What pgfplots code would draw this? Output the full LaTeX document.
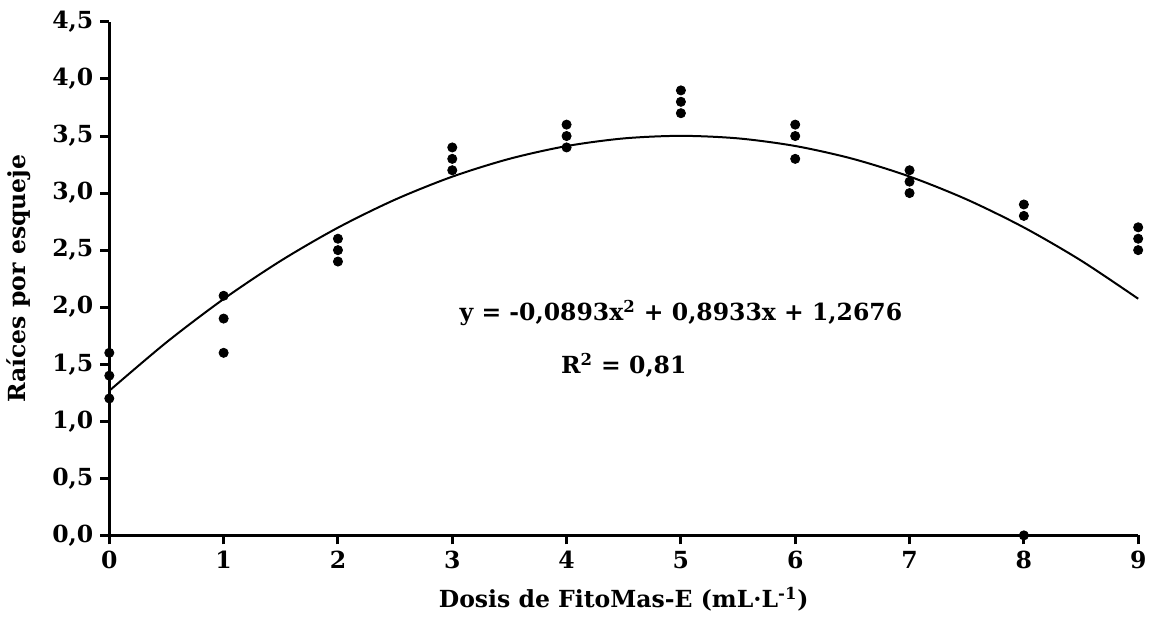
\documentclass[border=0pt]{standalone}
\usepackage{fontspec}
\setmainfont{DejaVu Serif}
\usepackage{pgfplots}
\pgfplotsset{compat=1.18}
\usepackage{pgfplotstable}

% observaciones (3 repeticiones por dosis)
\pgfplotstableread{
x y
0 1.6
0 1.4
0 1.2
1 2.1
1 1.9
1 1.6
2 2.6
2 2.5
2 2.4
3 3.4
3 3.3
3 3.2
4 3.6
4 3.5
4 3.4
5 3.9
5 3.8
5 3.7
6 3.6
6 3.5
6 3.3
7 3.2
7 3.1
7 3.0
8 2.9
8 2.8
8 0.0
9 2.7
9 2.6
9 2.5
}\obs

\newcommand{\lblfont}{\bfseries\fontsize{11.8}{13}\selectfont}

\begin{document}
\begin{tikzpicture}
\begin{axis}[
    scale only axis,
    width=516pt, height=257.5pt,
    xmin=0, xmax=9,
    ymin=0, ymax=4.5,
    xtick={0,1,...,9},
    ytick={0,0.5,...,4.5},
    axis x line*=bottom,
    axis y line*=left,
    axis line style={line width=1.5pt, -},
    tick align=outside,
    major tick style={draw=black, line width=1.5pt},
    major tick length=4.5pt,
    font=\lblfont,
    ticklabel style={font=\lblfont},
    /pgf/number format/assume math mode=true,
    yticklabel style={/pgf/number format/.cd, use comma, fixed, fixed zerofill, precision=1},
    xticklabel style={/pgf/number format/.cd, fixed, precision=0},
    xlabel={Dosis de FitoMas-E (mL·L\textsuperscript{-1})},
    ylabel={Raíces por esqueje},
    xlabel style={yshift=-2pt},
    ylabel style={yshift=4pt},
    clip=false,
]
\addplot[black, line width=1pt, smooth] coordinates {
(0,1.2676) (0.5,1.6919) (1,2.0716) (1.5,2.4066) (2,2.6970) (2.5,2.9427)
(3,3.1438) (3.5,3.3002) (4,3.4120) (4.5,3.4791) (5,3.5016) (5.5,3.4794)
(6,3.4126) (6.5,3.3011) (7,3.1450) (7.5,2.9442) (8,2.6988) (8.5,2.4087) (9,2.0740)
};
\addplot[only marks, mark=*, mark size=2.3pt, black] table[x=x, y=y] {\obs};
\node[font=\lblfont] at (axis cs:5,1.95)
  {y = -0,0893x\textsuperscript{2} + 0,8933x + 1,2676};
\node[font=\lblfont] at (axis cs:4.5,1.49)
  {R\textsuperscript{2} = 0,81};
\path (rel axis cs:0,1) ++(0,11pt) coordinate (topmargin);
\end{axis}
\end{tikzpicture}
\end{document}
